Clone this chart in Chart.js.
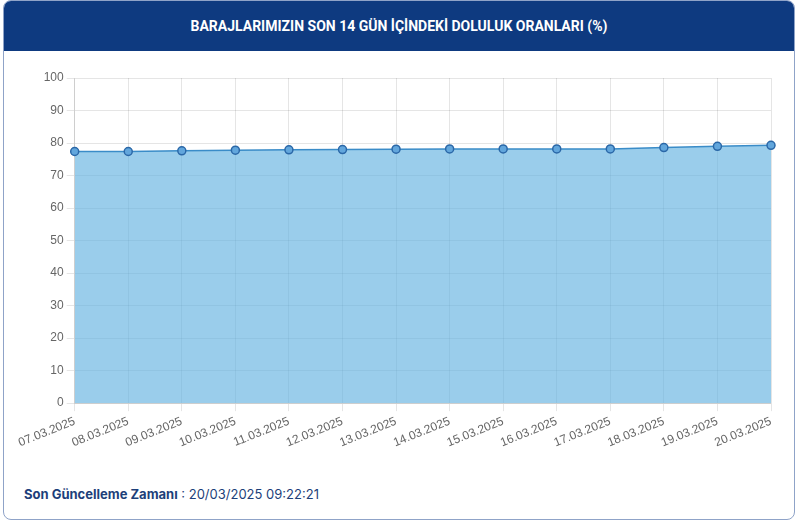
<!DOCTYPE html>
<html><head><meta charset="utf-8">
<script src="https://cdn.jsdelivr.net/npm/chart.js@4"></script>
<style>
html,body{margin:0;padding:0;background:#fff;width:800px;height:525px;overflow:hidden;font-family:"Open Sans",sans-serif;}
#card{position:absolute;left:3px;top:0;width:792px;height:520px;border:1.5px solid #8fa3c8;border-radius:8px;box-sizing:border-box;overflow:hidden;}
#hdr{position:absolute;left:0;top:0;width:100%;height:50px;background:#0e3a80;color:#fff;font:bold 14px "Roboto",sans-serif;display:flex;align-items:center;justify-content:center;letter-spacing:0px;}
#wrap{position:absolute;left:12px;top:62px;width:780px;height:390px;}
#foot{position:absolute;left:20px;top:485px;font:13px "Inter",sans-serif;color:#1d3f7a;}
#foot b{font-weight:700;}
</style></head><body>
<div id="card">
<div id="hdr">BARAJLARIMIZIN SON 14 GÜN İÇİNDEKİ DOLULUK ORANLARI (%)</div>
<div id="wrap"><canvas id="c"></canvas></div>
<div id="foot"><b>Son Güncelleme Zamanı</b> : 20/03/2025 09:22:21</div>
</div>
<script>
const dates = ["07.03.2025","08.03.2025","09.03.2025","10.03.2025","11.03.2025","12.03.2025","13.03.2025","14.03.2025","15.03.2025","16.03.2025","17.03.2025","18.03.2025","19.03.2025","20.03.2025"];
const fillRates = [77.4,77.4,77.6,77.8,77.9,78.0,78.1,78.2,78.2,78.2,78.2,78.6,79.0,79.3];
const yTicks = [0,10,20,30,40,50,60,70,80,90,100];

new Chart(document.getElementById('c'), {
  type: 'line',
  data: {
    labels: dates,
    datasets: [{
      data: fillRates,
      fill: true,
      backgroundColor: 'rgba(100,178,224,0.65)',
      borderColor: '#3a8cc8',
      borderWidth: 1.5,
      pointRadius: 4,
      pointBackgroundColor: '#62a6dc',
      pointBorderColor: '#2b68a8',
      pointBorderWidth: 1.5,
      tension: 0
    }]
  },
  options: {
    responsive: true,
    maintainAspectRatio: false,
    animation: false,
    layout: { padding: { left: 0, right: 25, top: 15, bottom: 0 } },
    plugins: { legend: { display: false }, tooltip: { enabled: false } },
    scales: {
      x: {
        offset: false,
        grid: { color: 'rgba(0,0,0,0.1)' },
        ticks: { color: '#666', font: { family: 'Liberation Sans', size: 12 }, minRotation: 22, maxRotation: 22, autoSkip: false }
      },
      y: {
        min: 0, max: 100,
        afterBuildTicks: (ax) => { ax.ticks = yTicks.map(v => ({ value: v })); },
        grid: { color: 'rgba(0,0,0,0.1)' },
        ticks: { color: '#666', font: { family: 'Liberation Sans', size: 12 } }
      }
    }
  }
});
</script>
</body></html>
